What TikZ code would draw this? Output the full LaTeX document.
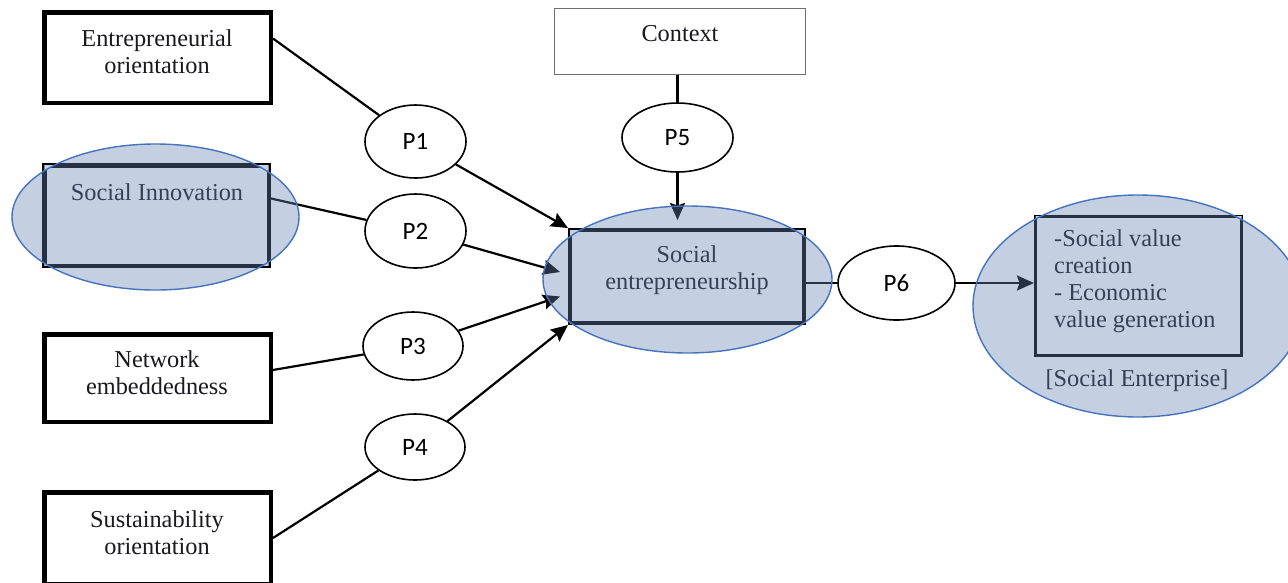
\documentclass[tikz,border=0pt]{standalone}
\usepackage{fontspec}
\setmainfont{Liberation Serif}
\newfontfamily\calibri{Carlito}
\usetikzlibrary{shapes.geometric,arrows.meta,calc}
\definecolor{ovl}{RGB}{100,130,180}
\definecolor{bfin}{RGB}{198,210,228}
\definecolor{eline}{RGB}{70,115,190}
\definecolor{ctxline}{RGB}{110,110,110}
\definecolor{txt}{RGB}{25,25,30}
\begin{document}
\begin{tikzpicture}[x=1pt,y=-1pt,
  bx/.style={draw=black, line width=4.5pt, inner sep=0pt},
  pe/.style={ellipse, draw=black, line width=1.6pt, fill=white, inner sep=0pt,
    font=\calibri\fontsize{25}{28}\selectfont},
  lbl/.style={font=\fontsize{24.3}{27}\selectfont, align=center, inner sep=0pt, text=txt},
  con/.style={line width=2.2pt, draw=black},
  arr/.style={con, -{Stealth[length=17pt,width=15pt,inset=2.5pt]}},
  ovlfill/.style={fill=ovl, fill opacity=0.38},
  eout/.style={draw=eline, line width=1.4pt}
]
\fill[white] (0,0) rectangle (1288,582);
\useasboundingbox (0,0) rectangle (1288,582);

% boxes
\node[bx, minimum width=226.5, minimum height=90.5] (b1) at (157.5,57.5) {};
\node[bx, fill=white, minimum width=224.5, minimum height=100.5] (b2) at (156.5,215.5) {};
\node[bx, minimum width=226.5, minimum height=87.5] (b3) at (157.5,378) {};
\node[bx, minimum width=226.5, minimum height=91.5] (b4) at (157.5,538) {};
\node[draw=ctxline, line width=1.3pt, minimum width=250.7, minimum height=65.7, inner sep=0pt] (ctx) at (680,41.5) {};
\node[bx, line width=4pt, fill=white, minimum width=234, minimum height=93] (se) at (687,276.5) {};
\node[bx, line width=3pt, fill=white, minimum width=206, minimum height=139] (rb) at (1138.5,286) {};

% proposition ellipses
\node[pe, minimum width=101, minimum height=73] (p1) at (415.5,141.5) {P1};
\node[pe, minimum width=101, minimum height=74] (p2) at (415.5,231) {P2};
\node[pe, minimum width=100, minimum height=68] (p3) at (413,346) {P3};
\node[pe, minimum width=100, minimum height=66] (p4) at (415,447) {P4};
\node[pe, minimum width=111, minimum height=69] (p5) at (677.5,137.5) {P5};
\node[pe, minimum width=117, minimum height=74] (p6) at (896.5,283) {P6};

% connectors
\draw[con] ($(b1.east)+(0,-19)$) -- (p1);
\draw[arr] (p1) -- (se.north west);
\draw[con] ($(b2.east)+(0,-17)$) -- (p2);
\draw[arr] (p2) -- ($(se.west)+(-8,-4.5)$);
\draw[con] ($(b3.east)+(0,-8)$) -- (p3);
\draw[arr] (p3) -- ($(se.west)+(-8,20)$);
\draw[con] (b4.east) -- (p4);
\draw[arr] (p4) -- (se.south west);
\draw[con] (ctx.south -| p5) -- (p5);
\coordinate (p5tip) at (677.5,220);
\draw[arr] (p5) -- (p5tip);
\draw[con] ($(se.east)+(0,6.5)$) -- (p6);
\draw[arr] (p6) -- (rb.west |- p6);

% texts
\node[lbl] (t1) at (157,51.5) {Entrepreneurial\\orientation};
\node[lbl] (t2) at (157,192) {Social Innovation};
\node[lbl] (t3) at (157,372.5) {Network\\embeddedness};
\node[lbl] (t4) at (157,532.5) {Sustainability\\orientation};
\node[lbl] (tctx) at (680,34) {Context};
\node[lbl] (tse) at (687,270.5) {Social\\entrepreneurship};
\node[lbl, align=left, anchor=west] (trb) at (1054,281.5) {-Social value\\creation\\- Economic\\value generation};
\node[lbl] (tent) at (1137,381) {[Social Enterprise]};

% overlay ellipses
\coordinate (e1) at (155.5,217);
\coordinate (e2) at (687.5,279.5);
\coordinate (e3) at (1138,306);
\fill[ovlfill] (e1) ellipse [x radius=143.5, y radius=73];
\fill[ovlfill] (e2) ellipse [x radius=144.5, y radius=73.5];
\fill[ovlfill] (e3) ellipse [x radius=165, y radius=111];

% box interiors outside the ellipses
\begin{scope}
\clip ($(b2.north west)+(2.3,2.3)$) rectangle ($(b2.south east)+(-2.3,-2.3)$);
\fill[bfin, even odd rule] (b2.north west) rectangle (b2.south east) (e1) ellipse [x radius=143.5, y radius=73];
\end{scope}
\begin{scope}
\clip ($(se.north west)+(2,2)$) rectangle ($(se.south east)+(-2,-2)$);
\fill[bfin, even odd rule] (se.north west) rectangle (se.south east) (e2) ellipse [x radius=144.5, y radius=73.5];
\end{scope}
\begin{scope}
\clip ($(rb.north west)+(1.5,1.5)$) rectangle ($(rb.south east)+(-1.5,-1.5)$);
\fill[bfin, even odd rule] (rb.north west) rectangle (rb.south east) (e3) ellipse [x radius=165, y radius=111];
\end{scope}

% ellipse outlines
\draw[eout] (e1) ellipse [x radius=143.5, y radius=73];
\draw[eout] (e2) ellipse [x radius=144.5, y radius=73.5];
\draw[eout] (e3) ellipse [x radius=165, y radius=111];
\end{tikzpicture}
\end{document}
